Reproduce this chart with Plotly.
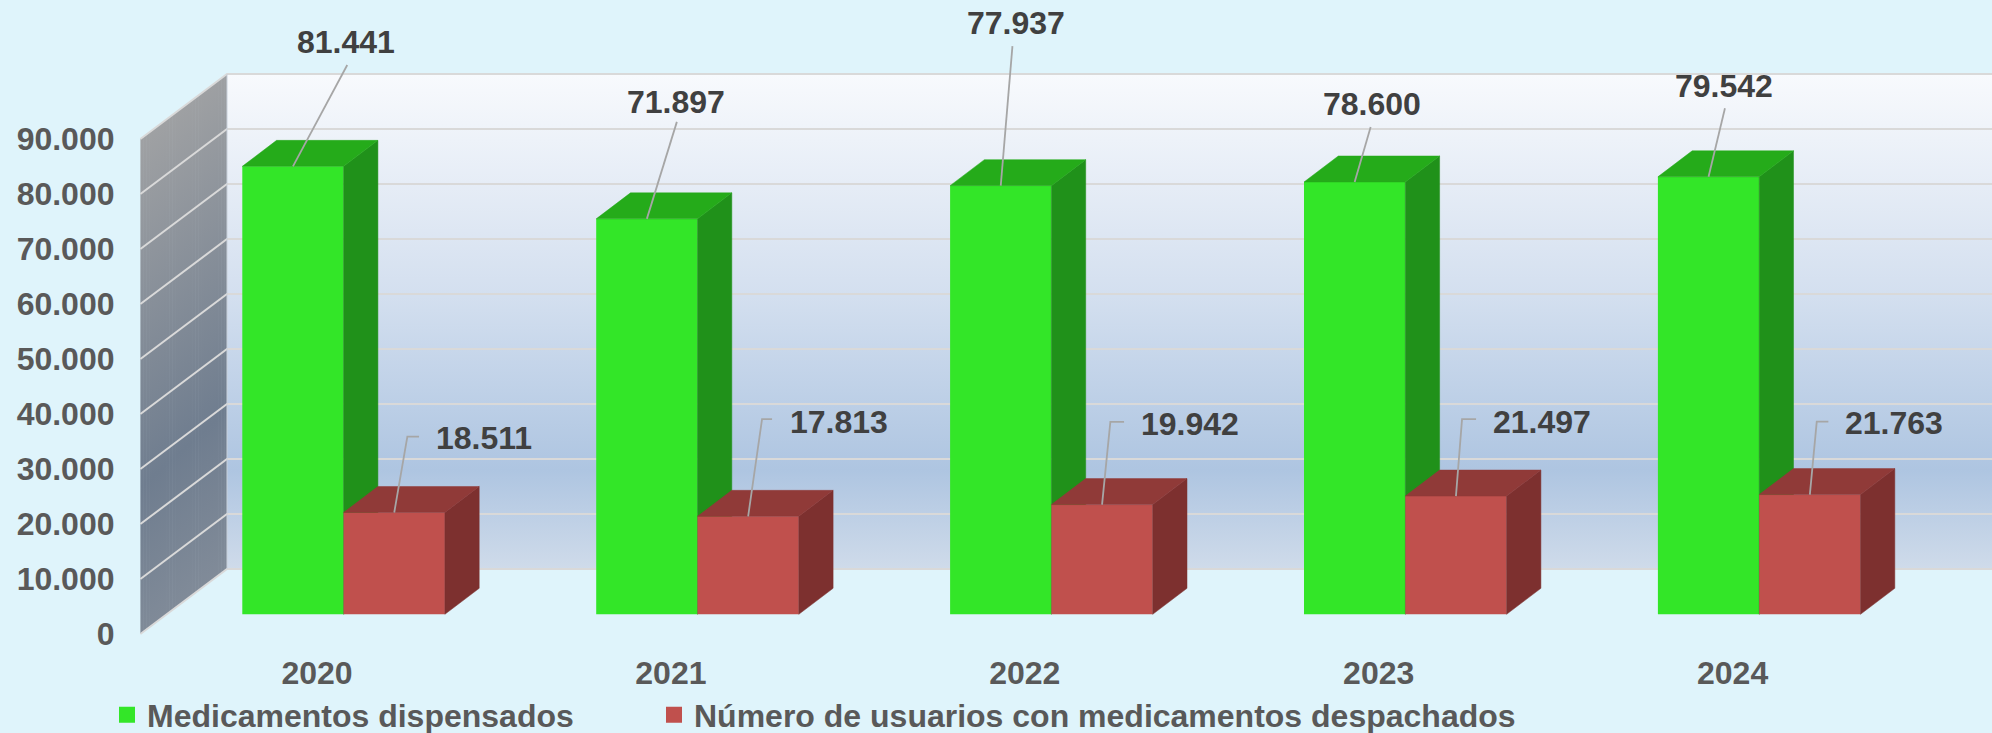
import plotly.graph_objects as go

# ---------- data ----------
years = ["2020", "2021", "2022", "2023", "2024"]
medicamentos = [81441, 71897, 77937, 78600, 79542]
usuarios = [18511, 17813, 19942, 21497, 21763]
y_ticks = [0, 10000, 20000, 30000, 40000, 50000, 60000, 70000, 80000, 90000]
name_a = "Medicamentos dispensados"
name_b = "Número de usuarios con medicamentos despachados"

# ---------- picture geometry (pixels) ----------
W, H = 1992, 733
EXTRA = 40             # room under the visible page so the legend needs no automargin
CAT = 353.9            # pixels per category
VAL = 0.0055           # pixels per unit of value
FRONT_X0, FRONT_Y0 = 317.0, 634.0     # axis plane: category 0, value 0
BAR_X0, BAR_Y0 = 343.6, 614.3         # bar plane: category 0, value 0
WALL_L, WALL_DX, WALL_DY = 140.4, 86.6, 65.0
BAR_W = 101.3 / CAT
DEPTH_X, DEPTH_Y = 34.3 / CAT, 26.0 / VAL

FRONT_XR = [(0 - FRONT_X0) / CAT, (W - FRONT_X0) / CAT]
FRONT_YR = [(FRONT_Y0 - H) / VAL, FRONT_Y0 / VAL]
BAR_XR = [(0 - BAR_X0) / CAT, (W - BAR_X0) / CAT]
BAR_YR = [(BAR_Y0 - H) / VAL, BAR_Y0 / VAL]

# label placement relative to the top of each bar, pixels (dx, dy down)
label_a = [(53.2, -124.6), (29.1, -117.3), (15.2, -162.6), (17.3, -78), (15.9, -90.8)]
leader_a = [[(54.3, -101.4)], [(30, -97)], [(11.7, -139.6)], [(16, -55)], [(16.4, -68.5)]]
label_b = [(89.8, -74.5), (90.4, -94.5), (88, -80.6), (85.6, -74.4), (84.2, -71.6)]
leader_b = [[(13.1, -75.8), (24.8, -75.8)], [(13.9, -97.3), (23.9, -97.3)],
            [(8.3, -82.8), (22, -82.8)], [(6.1, -76.9), (20.1, -76.9)],
            [(6.9, -72.9), (18.5, -72.9)]]

BG = "#dff4fb"
GRID = "#d9d9d9"
TICK = "#595959"
LABEL = "#404040"
LEADER = "#a6a6a6"
FONT = "Liberation Sans"
GREEN, GREEN_TOP, GREEN_SIDE = "#33e628", "#25ab1a", "#20911a"
RED, RED_TOP, RED_SIDE = "#c0504d", "#903a38", "#7d302f"


def fx(px):
    return (px - FRONT_X0) / CAT


def fy(py):
    return (FRONT_Y0 - py) / VAL


fig = go.Figure()

# ---------- back wall ----------
back_left = WALL_L + WALL_DX
top_py = FRONT_Y0 - y_ticks[-1] * VAL - WALL_DY
bot_py = FRONT_Y0 - WALL_DY
fig.add_trace(go.Scatter(
    x=[fx(back_left), fx(W + 5), fx(W + 5), fx(back_left), fx(back_left)],
    y=[fy(top_py), fy(top_py), fy(bot_py), fy(bot_py), fy(top_py)],
    mode="lines", line=dict(width=0), fill="toself",
    fillgradient=dict(type="vertical", start=fy(top_py), stop=fy(bot_py),
                      colorscale=[[0, "#f8fafd"], [0.45, "#d3dfef"], [0.8, "#aec5e1"], [1, "#cfdbea"]]),
    hoverinfo="skip", showlegend=False, xaxis="x", yaxis="y"))

# ---------- side wall: strips whose gradient shifts, giving a diagonal shade ----------
STRIPS = 30
SLOPE = WALL_DY / WALL_DX
G_SHIFT = 0.9
for s in range(STRIPS):
    p0 = WALL_L + WALL_DX * s / STRIPS
    p1 = WALL_L + WALL_DX * (s + 1) / STRIPS + (0.6 if s < STRIPS - 1 else 0)
    t0 = FRONT_Y0 - y_ticks[-1] * VAL - (p0 - WALL_L) * SLOPE
    b0 = FRONT_Y0 - (p0 - WALL_L) * SLOPE
    t1 = FRONT_Y0 - y_ticks[-1] * VAL - (p1 - WALL_L) * SLOPE
    b1 = FRONT_Y0 - (p1 - WALL_L) * SLOPE
    shift = (p0 - WALL_L) * G_SHIFT
    fig.add_trace(go.Scatter(
        x=[fx(p0), fx(p1), fx(p1), fx(p0), fx(p0)],
        y=[fy(t0), fy(t1), fy(b1), fy(b0), fy(t0)],
        mode="lines", line=dict(width=0), fill="toself",
        fillgradient=dict(type="vertical", start=fy(90 - shift), stop=fy(700 - shift),
                          colorscale=[[0, "#a6a6a6"], [0.65, "#6f7d8f"], [1, "#87909c"]]),
        hoverinfo="skip", showlegend=False, xaxis="x", yaxis="y"))

# ---------- grid lines ----------
gx, gy = [], []
for v in y_ticks:
    py = FRONT_Y0 - v * VAL
    gx += [fx(WALL_L), fx(back_left), fx(W + 5), None]
    gy += [v, fy(py - WALL_DY), fy(py - WALL_DY), None]
fig.add_trace(go.Scatter(x=gx, y=gy, mode="lines", line=dict(color=GRID, width=2),
                         hoverinfo="skip", showlegend=False, xaxis="x", yaxis="y"))
fig.add_trace(go.Scatter(x=[fx(back_left), fx(back_left)],
                         y=[fy(top_py), fy(bot_py)], mode="lines",
                         line=dict(color="#c8d0da", width=1),
                         hoverinfo="skip", showlegend=False, xaxis="x", yaxis="y"))


def box_faces(values, offset, side_color, top_color, xa, ya):
    sx, sy, tx, ty = [], [], [], []
    for i, v in enumerate(values):
        x0, x1 = i + offset, i + offset + BAR_W
        sx += [x1, x1 + DEPTH_X, x1 + DEPTH_X, x1, x1, None]
        sy += [0, DEPTH_Y, v + DEPTH_Y, v, 0, None]
        tx += [x0, x0 + DEPTH_X, x1 + DEPTH_X, x1, x0, None]
        ty += [v, v + DEPTH_Y, v + DEPTH_Y, v, v, None]
    for xs, ys, c in ((sx, sy, side_color), (tx, ty, top_color)):
        fig.add_trace(go.Scatter(x=xs, y=ys, mode="lines", line=dict(width=0.5, color=c),
                                 fill="toself", fillcolor=c, hoverinfo="skip",
                                 showlegend=False, xaxis=xa, yaxis=ya))


idx = list(range(len(years)))

# ---------- green boxes (layer 2) ----------
fig.add_trace(go.Bar(x=idx, y=medicamentos, width=BAR_W, offset=-BAR_W, marker=dict(color=GREEN, line=dict(width=0)),
                     name=name_a, showlegend=False, xaxis="x2", yaxis="y2"))
box_faces(medicamentos, -BAR_W, GREEN_SIDE, GREEN_TOP, "x2", "y2")

# ---------- red boxes (layer 3) ----------
fig.add_trace(go.Bar(x=idx, y=usuarios, width=BAR_W, offset=0, marker=dict(color=RED, line=dict(width=0)),
                     name=name_b, showlegend=False, xaxis="x3", yaxis="y3"))
box_faces(usuarios, 0, RED_SIDE, RED_TOP, "x3", "y3")

# ---------- leader lines and value labels ----------
annotations = []


def labelled(values, offset, labels, leaders):
    lx, ly = [], []
    for i, v in enumerate(values):
        cx = i + offset + BAR_W / 2
        lx.append(cx)
        ly.append(v)
        for dx, dy in leaders[i]:
            lx.append(cx + dx / CAT)
            ly.append(v - dy / VAL)
        lx.append(None)
        ly.append(None)
        dx, dy = labels[i]
        annotations.append(dict(
            x=cx, y=v, xref="x3", yref="y3", xshift=dx, yshift=-dy, showarrow=False,
            xanchor="center", yanchor="middle",
            text=f"{v:,}".replace(",", "."),
            font=dict(family=FONT, size=32, color=LABEL, weight=700)))
    fig.add_trace(go.Scatter(x=lx, y=ly, mode="lines", line=dict(color=LEADER, width=1.8),
                             hoverinfo="skip", showlegend=False, xaxis="x3", yaxis="y3"))


labelled(medicamentos, -BAR_W, label_a, leader_a)
labelled(usuarios, 0, label_b, leader_b)

# ---------- legend entries ----------
for nm, col, lg in ((name_a, GREEN, "legend"), (name_b, RED, "legend2")):
    fig.add_trace(go.Scatter(x=[None], y=[None], mode="markers", name=nm, legend=lg,
                             marker=dict(symbol="square", size=16, color=col),
                             xaxis="x3", yaxis="y3"))

hidden = dict(visible=False, fixedrange=True)
legend_style = dict(orientation="h", xanchor="left", y=1 - 715 / H, yanchor="middle",
                    bgcolor="rgba(0,0,0,0)",
                    font=dict(family=FONT, size=32, color=TICK, weight=700),
                    itemclick=False, itemdoubleclick=False)
fig.update_layout(
    width=W, height=H + EXTRA, margin=dict(l=0, r=0, t=0, b=EXTRA, pad=0),
    paper_bgcolor=BG, plot_bgcolor="rgba(0,0,0,0)", separators=",.",
    barmode="overlay", hovermode=False,
    font=dict(family=FONT, size=32, color=TICK, weight=700),
    annotations=annotations,
    xaxis=dict(range=FRONT_XR, tickvals=idx, ticktext=years, anchor="free",
               position=1 - 651 / H,
               showgrid=False, zeroline=False, showline=False, ticks="",
               tickfont=dict(family=FONT, size=32, color=TICK, weight=700), domain=[0, 1]),
    yaxis=dict(range=FRONT_YR, tickvals=y_ticks, tickformat=",d", anchor="free", position=114.5 / W,
               showgrid=False, zeroline=False, showline=False, ticks="",
               tickfont=dict(family=FONT, size=32, color=TICK, weight=700), domain=[0, 1]),
    xaxis2=dict(range=BAR_XR, overlaying="x", **hidden),
    yaxis2=dict(range=BAR_YR, overlaying="y", **hidden),
    xaxis3=dict(range=BAR_XR, overlaying="x", **hidden),
    yaxis3=dict(range=BAR_YR, overlaying="y", **hidden),
    legend=dict(x=107 / W, **legend_style),
    legend2=dict(x=654 / W, **legend_style),
)

fig.write_html("out.html", config=dict(displayModeBar=False),
               post_script="document.body.style.margin='0';document.documentElement.style.overflow='hidden';document.body.style.overflow='hidden';")
